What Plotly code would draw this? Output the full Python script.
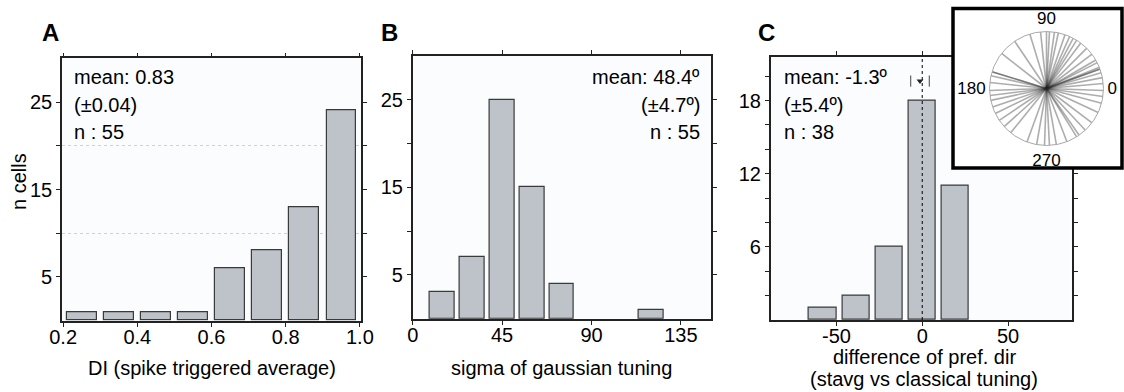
import plotly.graph_objects as go

W, H = 1124, 392

# ---------------- data ----------------
# A: direction index (spike triggered average)
di_centers = [0.25, 0.35, 0.45, 0.55, 0.65, 0.75, 0.85, 0.95]
di_counts = [1, 1, 1, 1, 6, 8, 13, 24]
di_mean, di_sem, di_n = 0.83, 0.04, 55

# B: sigma of gaussian tuning (deg)
sigma_centers = [15, 30, 45, 60, 75, 90, 105, 120]
sigma_counts = [3, 7, 25, 15, 4, 0, 0, 1]
sigma_mean, sigma_sem, sigma_n = 48.4, 4.7, 55

# C: difference of preferred direction (deg)
dpref_centers = [-57.9, -38.6, -19.3, 0.0, 19.3]
dpref_counts = [1, 2, 6, 18, 11]
dpref_mean, dpref_sem, dpref_n = -1.3, 5.4, 38

# inset: preferred directions (deg)
pref_dirs = [5, 11, 16, 20, 20, 22, 27, 30, 37, 45, 53, 58, 62, 66, 71, 78, 82,
             87, 90, 96, 107, 124, 142, 163, 163, 167, 174, 182, 187, 192, 199,
             206, 214, 222, 231, 250, 260, 268, 273, 280, 291, 302, 305, 313,
             323, 335, 345, 352, 358]

# tick labels
a_xticks = [0.2, 0.4, 0.6, 0.8, 1.0]
a_xlabels = ["0.2", "0.4", "0.6", "0.8", "1.0"]
ab_yticks = [5, 10, 15, 20, 25]
ab_ylabels = ["5", "", "15", "", "25"]
b_xticks = [0, 45, 90, 135]
c_xticks = [-50, 0, 50]
c_xlabels = ["-50", "0", "50"]
c_yticks = [2, 4, 6, 8, 10, 12, 14, 16, 18, 20]
c_ylabels = ["", "", "6", "", "", "12", "", "", "18", ""]
polar_ticks = [0, 90, 180, 270]

# ---------------- style ----------------
FONT = "Liberation Sans, Arial, Helvetica, sans-serif"
FS = 20
BAR_FILL = "#bec3ca"
BAR_LINE = "#3a3a3a"
AX_COL = "#222222"


def px(x):
    return x / W


def py(y):
    return 1 - y / H


fig = go.Figure()


def bars(centers, counts, width, xa, ya):
    # empty bins get no outline
    return go.Bar(x=centers, y=counts, width=width, xaxis=xa, yaxis=ya,
                  marker=dict(color=BAR_FILL,
                              line=dict(color=BAR_LINE,
                                        width=[1.2 if c > 0 else 0 for c in counts])),
                  showlegend=False, hoverinfo="x+y")


fig.add_trace(bars(di_centers, di_counts, 0.08, "x", "y"))
fig.add_trace(bars(sigma_centers, sigma_counts, 12.4, "x2", "y2"))
fig.add_trace(bars(dpref_centers, dpref_counts, 16, "x3", "y3"))

# mean +/- sem marker above the C histogram
MARK_Y = 19.6
fig.add_trace(go.Scatter(x=[dpref_mean - dpref_sem, dpref_mean + dpref_sem],
                         y=[MARK_Y, MARK_Y], mode="markers",
                         marker=dict(symbol="line-ns", size=8,
                                     line=dict(color="#444", width=1)),
                         xaxis="x3", yaxis="y3", showlegend=False, hoverinfo="skip"))
fig.add_trace(go.Scatter(x=[dpref_mean], y=[MARK_Y], mode="markers",
                         marker=dict(symbol="triangle-down", size=6, color="#222"),
                         xaxis="x3", yaxis="y3", showlegend=False, hoverinfo="skip"))

# white backdrop for the inset box
fig.add_trace(go.Scatter(x=[0, 1, 1, 0, 0], y=[0, 0, 1, 1, 0], fill="toself",
                         fillcolor="white", mode="none", xaxis="x4", yaxis="y4",
                         showlegend=False, hoverinfo="skip"))

# inset: one radial line per cell
r_vals, th_vals = [], []
for a in pref_dirs:
    r_vals += [0, 1, None]
    th_vals += [a, a, None]
fig.add_trace(go.Scatterpolar(r=r_vals, theta=th_vals, mode="lines",
                              line=dict(color="rgba(40,40,40,0.38)", width=1.6),
                              connectgaps=False, showlegend=False, hoverinfo="skip"))


def xaxis(domain, rng, ticks, anchor, labels=None):
    d = dict(domain=domain, range=rng, tickvals=ticks, anchor=anchor,
             showline=True, linecolor=AX_COL, linewidth=1.6, mirror="ticks",
             ticks="outside", ticklen=4, tickwidth=1.2, tickcolor=AX_COL,
             ticklabelstandoff=-7,
             showgrid=False, zeroline=False, automargin=False,
             tickfont=dict(family=FONT, size=FS, color="black"))
    if labels is not None:
        d["ticktext"] = labels
    return d


def yaxis(domain, rng, ticks, labels, anchor):
    return dict(domain=domain, range=rng, tickvals=ticks, ticktext=labels,
                anchor=anchor, showline=True, linecolor=AX_COL, linewidth=1.6,
                mirror="ticks", ticks="outside", ticklen=4, tickwidth=1.2,
                tickcolor=AX_COL, showgrid=False, zeroline=False, automargin=False,
                tickfont=dict(family=FONT, size=FS, color="black"))


ya = yaxis([py(320.7), py(58.3)], [0, 30], ab_yticks, ab_ylabels, "x")
ya["minor"] = dict(tickvals=[10, 20], showgrid=True, gridcolor="#bcd6e8",
                   griddash="dot", gridwidth=1, ticks="")

inset_box = [953, 1122, 8.5, 168]
pc, pr = (1046.5, 88.5), 57

fig.update_layout(
    width=W, height=H,
    margin=dict(l=0, r=0, t=0, b=0),
    paper_bgcolor="white",
    plot_bgcolor="#fafcfe",
    bargap=0,
    font=dict(family=FONT, size=FS, color="black"),
    xaxis=xaxis([px(62), px(361)], [0.197, 1.003], a_xticks, "y", a_xlabels),
    yaxis=ya,
    xaxis2=xaxis([px(412.7), px(710.7)], [0, 150], b_xticks, "y2"),
    yaxis2=yaxis([py(318.7), py(56)], [0, 30], ab_yticks, ab_ylabels, "x2"),
    xaxis3=xaxis([px(770.7), px(1071.7)], [-88.3, 87.1], c_xticks, "y3", c_xlabels),
    yaxis3=yaxis([py(320), py(56.7)], [0, 21.6], c_yticks, c_ylabels, "x3"),
    xaxis4=dict(domain=[px(inset_box[0]), px(inset_box[1])], range=[0, 1],
                visible=False, anchor="y4", fixedrange=True),
    yaxis4=dict(domain=[py(inset_box[3]), py(inset_box[2])], range=[0, 1],
                visible=False, anchor="x4", fixedrange=True),
    polar=dict(
        domain=dict(x=[px(pc[0] - pr), px(pc[0] + pr)],
                    y=[py(pc[1] + pr), py(pc[1] - pr)]),
        bgcolor="white",
        radialaxis=dict(visible=False, range=[0, 1]),
        angularaxis=dict(tickvals=polar_ticks, ticktext=[str(t) for t in polar_ticks],
                         showgrid=False, ticks="", showline=True,
                         linecolor="#a8a8a8", linewidth=1,
                         tickfont=dict(family=FONT, size=17, color="black")),
    ),
)

# zero reference in C
fig.add_shape(type="line", xref="x3", yref="y3 domain", x0=0, x1=0, y0=0, y1=1,
              line=dict(color="black", width=1, dash="dot"))
# inset frame
fig.add_shape(type="rect", xref="paper", yref="paper",
              x0=px(inset_box[0]), x1=px(inset_box[1]),
              y0=py(inset_box[3]), y1=py(inset_box[2]),
              line=dict(color="black", width=3.5), layer="above")


def note(x, y, text, **kw):
    args = dict(x=px(x), y=py(y), xref="paper", yref="paper", text=text,
                showarrow=False, font=dict(family=FONT, size=FS, color="black"),
                xanchor="center", yanchor="middle")
    args.update(kw)
    fig.add_annotation(**args)


# panel letters
for lx, letter in [(50, "A"), (389, "B"), (766, "C")]:
    note(lx, 33, f"<b>{letter}</b>", font=dict(family=FONT, size=24, color="black"))

note(19, 182, "n cells", textangle=-90)

# summary statistics
for x, anchor, lines in [
    (72, "left", [f"mean: {di_mean:.2f}", f"(±{di_sem:.2f})", f"n : {di_n}"]),
    (702, "right", [f"mean: {sigma_mean:.1f}º", f"(±{sigma_sem:.1f}º)", f"n : {sigma_n}"]),
    (781.7, "left", [f"mean: {dpref_mean:.1f}º", f"(±{dpref_sem:.1f}º)", f"n : {dpref_n}"]),
]:
    for y, t in zip([76.7, 104.5, 131.7], lines):
        note(x, y, t, xanchor=anchor)

# axis titles
note(211.5, 368, "DI (spike triggered average)")
note(561.7, 368, "sigma of gaussian tuning")
note(924, 357, "difference of pref. dir")
note(924, 378.5, "(stavg vs classical tuning)")

fig.write_html("out.html")
